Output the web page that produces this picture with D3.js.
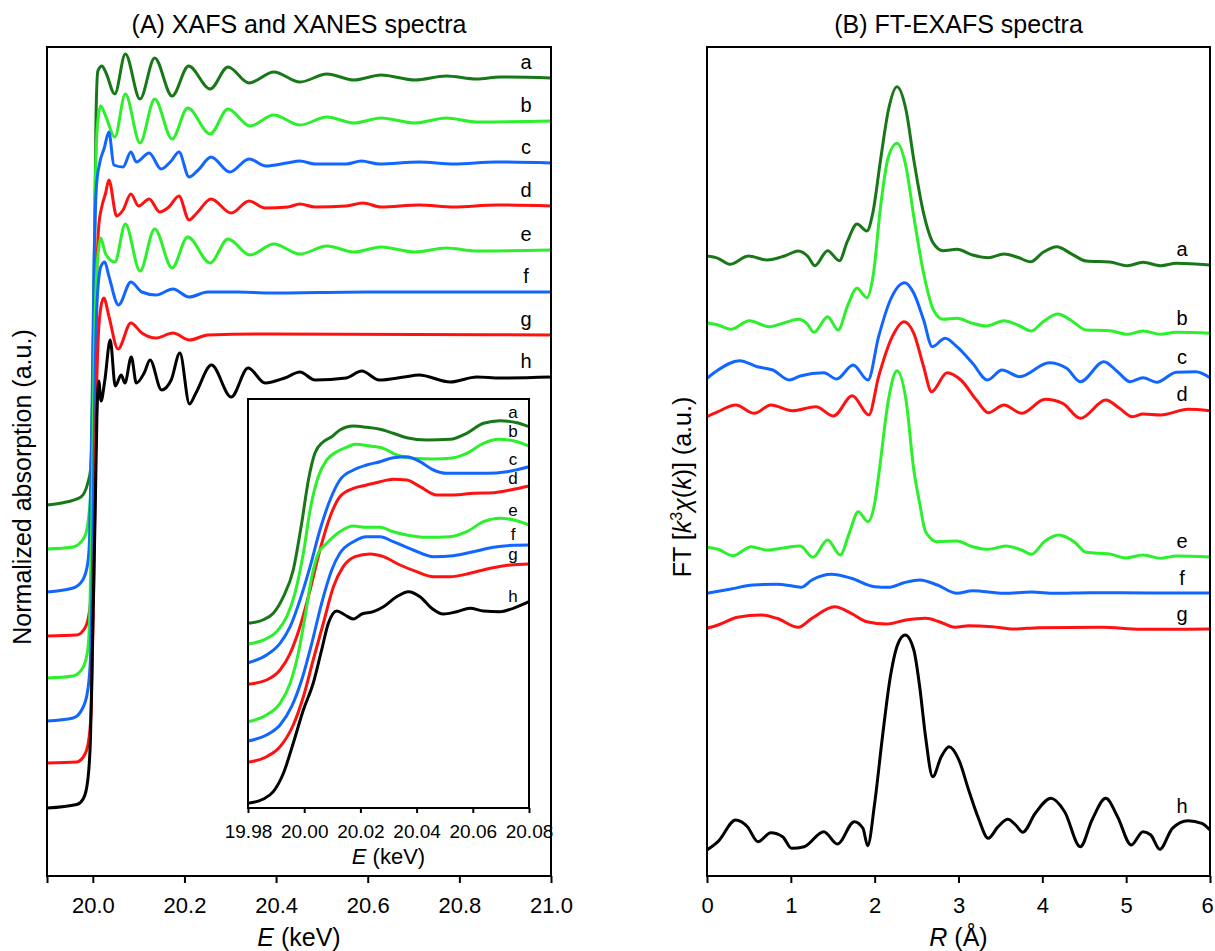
<!DOCTYPE html>
<html lang="en">
<head>
<meta charset="utf-8">
<title>XAFS and FT-EXAFS spectra</title>
<script src="https://d3js.org/d3.v7.min.js"></script>
<style>
  body { margin: 0; background: #fff; }
  svg text { font-family: "Liberation Sans", Arial, sans-serif; fill: #000; }
</style>
</head>
<body>
<div id="chart"></div>
<script>
// sample labels and colours
const samples = ['a', 'b', 'c', 'd', 'e', 'f', 'g', 'h'];
const color_map = {a: '#187818', b: '#2bf02b', c: '#1166ff', d: '#ff1111',
                   e: '#2bf02b', f: '#1166ff', g: '#ff1111', h: '#000000'};

// (A) XAFS : [E (keV), normalized absorption + offset (a.u.)]
const xafsA = [[19.9,3.71],[19.932,3.73],[19.974,3.79],[19.989,3.93],[19.995,4.06],[20.0,4.9],[20.003,6.0],[20.007,7.6],[20.011,8.05],[20.02,8.10],[20.028,8.04],[20.048,7.82],[20.071,8.22],[20.103,7.77],[20.135,8.18],[20.173,7.80],[20.209,8.10],[20.256,7.87],[20.295,8.09],[20.341,7.93],[20.395,8.04],[20.452,7.94],[20.511,8.02],[20.570,7.96],[20.629,8.01],[20.703,7.96],[20.771,8.00],[20.838,7.97],[20.889,7.99],[21.0,7.98]];
const xafsB = [[19.9,3.27],[19.957,3.29],[19.982,3.39],[19.992,3.63],[19.996,3.89],[20.001,5.2],[20.005,6.8],[20.010,7.5],[20.017,7.70],[20.028,7.60],[20.048,7.39],[20.071,7.82],[20.103,7.33],[20.135,7.77],[20.173,7.37],[20.207,7.68],[20.256,7.42],[20.295,7.67],[20.343,7.50],[20.395,7.61],[20.452,7.51],[20.511,7.59],[20.570,7.53],[20.629,7.58],[20.703,7.53],[20.771,7.58],[20.838,7.54],[21.0,7.55]];
const xafsC = [[19.9,2.84],[19.957,2.88],[19.978,2.96],[19.989,3.13],[19.993,3.39],[19.998,4.6],[20.003,6.2],[20.008,6.9],[20.015,7.13],[20.025,7.28],[20.035,7.44],[20.046,7.11],[20.066,7.09],[20.083,7.24],[20.095,7.14],[20.123,7.23],[20.149,7.07],[20.171,7.15],[20.188,7.24],[20.210,6.99],[20.230,7.06],[20.258,7.19],[20.299,7.04],[20.341,7.17],[20.378,7.10],[20.423,7.13],[20.452,7.15],[20.485,7.12],[20.553,7.12],[20.586,7.15],[20.625,7.12],[20.712,7.14],[20.788,7.12],[20.880,7.14],[21.0,7.13]];
const xafsD = [[19.9,2.40],[19.965,2.41],[19.984,2.49],[19.995,2.73],[19.999,3.06],[20.003,4.3],[20.008,5.9],[20.013,6.5],[20.020,6.70],[20.028,6.83],[20.035,6.96],[20.052,6.60],[20.066,6.66],[20.083,6.82],[20.100,6.70],[20.123,6.77],[20.146,6.64],[20.166,6.69],[20.188,6.80],[20.210,6.56],[20.227,6.63],[20.258,6.77],[20.302,6.63],[20.341,6.75],[20.376,6.68],[20.426,6.69],[20.452,6.72],[20.485,6.69],[20.553,6.70],[20.590,6.73],[20.629,6.69],[20.712,6.71],[20.788,6.69],[20.880,6.71],[21.0,6.70]];
const xafsE = [[19.9,1.98],[19.957,2.00],[19.978,2.08],[19.989,2.26],[19.993,2.56],[19.998,3.6],[20.003,5.2],[20.008,6.0],[20.012,6.25],[20.017,6.38],[20.028,6.22],[20.048,6.14],[20.071,6.52],[20.103,6.05],[20.135,6.47],[20.173,6.08],[20.207,6.39],[20.256,6.13],[20.295,6.37],[20.343,6.21],[20.395,6.32],[20.452,6.22],[20.511,6.30],[20.570,6.24],[20.629,6.29],[20.703,6.24],[20.771,6.28],[20.838,6.25],[21.0,6.26]];
const xafsF = [[19.9,1.55],[19.957,1.58],[19.978,1.68],[19.989,1.86],[19.995,2.19],[20.000,3.3],[20.005,5.0],[20.010,5.8],[20.018,6.10],[20.026,6.14],[20.035,6.0],[20.056,5.71],[20.083,5.94],[20.107,5.84],[20.138,5.81],[20.175,5.87],[20.210,5.79],[20.251,5.84],[20.317,5.84],[20.385,5.83],[20.600,5.84],[21.0,5.84]];
const xafsG = [[19.9,1.13],[19.965,1.14],[19.984,1.23],[19.992,1.39],[19.997,1.73],[20.002,2.9],[20.007,4.6],[20.012,5.4],[20.018,5.70],[20.024,5.78],[20.035,5.6],[20.055,5.27],[20.083,5.53],[20.107,5.43],[20.138,5.38],[20.175,5.43],[20.211,5.36],[20.251,5.41],[20.385,5.42],[21.0,5.41]];
const xafsH = [[19.9,0.68],[19.965,0.715],[19.980,0.78],[19.989,0.96],[19.995,1.39],[20.000,2.5],[20.005,3.6],[20.009,4.6],[20.013,4.95],[20.018,4.75],[20.026,4.95],[20.038,5.36],[20.049,4.90],[20.062,5.01],[20.070,4.93],[20.084,5.19],[20.095,4.93],[20.112,5.03],[20.125,5.16],[20.150,4.86],[20.171,4.96],[20.190,5.23],[20.211,4.72],[20.225,4.83],[20.259,5.11],[20.302,4.79],[20.339,5.08],[20.376,4.93],[20.419,4.98],[20.452,5.04],[20.485,4.96],[20.553,4.98],[20.587,5.05],[20.625,4.96],[20.679,4.99],[20.712,5.01],[20.780,4.94],[20.838,4.99],[20.889,4.98],[21.0,4.99]];

// inset XANES : [E (keV), absorption + offset (a.u.)]
const xanesA = [[19.98,1.847],[19.9853,1.88],[19.989,1.947],[19.9926,2.113],[19.9961,2.38],[19.9991,2.847],[20.0015,3.28],[20.0038,3.547],[20.0068,3.663],[20.0098,3.713],[20.0127,3.78],[20.0175,3.82],[20.0222,3.807],[20.027,3.787],[20.0317,3.747],[20.0365,3.703],[20.0436,3.68],[20.0519,3.687],[20.0578,3.747],[20.0638,3.847],[20.0697,3.873],[20.0757,3.853],[20.08,3.813]];
const xanesB = [[19.98,1.64],[19.9861,1.687],[19.9902,1.763],[19.9938,1.913],[19.9967,2.147],[19.9997,2.547],[20.0021,2.98],[20.005,3.313],[20.008,3.48],[20.0116,3.563],[20.0151,3.607],[20.0181,3.637],[20.0234,3.62],[20.0282,3.597],[20.0329,3.53],[20.0388,3.497],[20.046,3.49],[20.0519,3.497],[20.0578,3.547],[20.0638,3.647],[20.0691,3.687],[20.0744,3.673],[20.08,3.62]];
const xanesC = [[19.98,1.453],[19.9866,1.53],[19.9914,1.647],[19.995,1.813],[19.9985,2.08],[20.0021,2.413],[20.0056,2.78],[20.0092,3.08],[20.0127,3.28],[20.0175,3.38],[20.0222,3.43],[20.027,3.463],[20.0317,3.503],[20.0365,3.513],[20.0412,3.463],[20.046,3.38],[20.0507,3.347],[20.0578,3.347],[20.065,3.347],[20.0721,3.363],[20.08,3.413]];
const xanesD = [[19.98,1.237],[19.9866,1.28],[19.9914,1.38],[19.995,1.547],[19.9985,1.813],[20.0021,2.18],[20.0056,2.58],[20.0092,2.913],[20.0127,3.113],[20.0175,3.197],[20.0222,3.23],[20.027,3.263],[20.0317,3.287],[20.0365,3.28],[20.0412,3.213],[20.0472,3.13],[20.0531,3.13],[20.0602,3.147],[20.0673,3.153],[20.0733,3.18],[20.08,3.22]];
const xanesE = [[19.98,0.863],[19.9866,0.93],[19.9914,1.047],[19.995,1.247],[19.9979,1.547],[20.0003,1.913],[20.0027,2.313],[20.005,2.547],[20.008,2.647],[20.0127,2.763],[20.0175,2.82],[20.0222,2.807],[20.027,2.807],[20.0317,2.763],[20.0365,2.73],[20.0436,2.707],[20.0519,2.713],[20.0578,2.763],[20.0638,2.863],[20.0697,2.897],[20.0757,2.873],[20.08,2.83]];
const xanesF = [[19.98,0.67],[19.9866,0.73],[19.9914,0.83],[19.9955,1.013],[19.9991,1.28],[20.0027,1.647],[20.0062,2.047],[20.0098,2.38],[20.0127,2.547],[20.0175,2.663],[20.0222,2.713],[20.027,2.713],[20.0317,2.663],[20.0388,2.58],[20.046,2.513],[20.0531,2.523],[20.0602,2.563],[20.0673,2.607],[20.0744,2.627],[20.08,2.63]];
const xanesG = [[19.98,0.457],[19.9866,0.513],[19.9914,0.613],[19.9961,0.83],[19.9997,1.113],[20.0032,1.48],[20.0068,1.847],[20.0104,2.213],[20.0139,2.413],[20.0181,2.513],[20.0234,2.54],[20.0282,2.513],[20.0341,2.43],[20.04,2.363],[20.046,2.313],[20.0519,2.313],[20.059,2.347],[20.0662,2.397],[20.0733,2.43],[20.08,2.44]];
const xanesH = [[19.98,0.047],[19.9853,0.087],[19.989,0.163],[19.9926,0.347],[19.9961,0.647],[19.9997,0.98],[20.0032,1.247],[20.0062,1.58],[20.0086,1.847],[20.0116,1.97],[20.0145,1.93],[20.0175,1.89],[20.0205,1.94],[20.0246,1.963],[20.0282,2.013],[20.0329,2.113],[20.0371,2.163],[20.0412,2.113],[20.0454,1.997],[20.0495,1.94],[20.0543,1.963],[20.059,1.997],[20.0638,1.97],[20.0697,1.963],[20.0744,1.997],[20.08,2.063]];

// (B) FT-EXAFS : [R (A), |FT| + offset (a.u.)]
const ftA = [[0,6.20],[0.131,6.177],[0.271,6.117],[0.495,6.20],[0.715,6.16],[0.925,6.20],[1.089,6.25],[1.206,6.193],[1.285,6.103],[1.439,6.253],[1.579,6.153],[1.673,6.343],[1.79,6.52],[1.907,6.45],[1.977,6.627],[2.07,7.16],[2.164,7.66],[2.266,7.893],[2.374,7.66],[2.467,7.16],[2.584,6.627],[2.701,6.327],[2.818,6.253],[2.981,6.267],[3.168,6.21],[3.355,6.183],[3.542,6.22],[3.706,6.187],[3.86,6.143],[4.009,6.237],[4.173,6.293],[4.336,6.227],[4.523,6.15],[4.804,6.14],[5.014,6.103],[5.201,6.137],[5.411,6.103],[5.598,6.127],[6.0,6.11]];
const ftB = [[0,5.533],[0.131,5.51],[0.285,5.467],[0.505,5.553],[0.738,5.493],[0.925,5.533],[1.089,5.567],[1.196,5.52],[1.276,5.437],[1.439,5.593],[1.565,5.46],[1.673,5.693],[1.79,5.877],[1.907,5.783],[1.986,6.027],[2.07,6.693],[2.164,7.193],[2.266,7.327],[2.374,7.093],[2.467,6.593],[2.584,6.027],[2.701,5.66],[2.818,5.567],[2.981,5.577],[3.168,5.527],[3.332,5.50],[3.542,5.553],[3.706,5.51],[3.869,5.45],[4.009,5.543],[4.187,5.62],[4.336,5.56],[4.523,5.46],[4.804,5.453],[5.014,5.417],[5.201,5.45],[5.411,5.417],[5.598,5.437],[6.0,5.427]];
const ftC = [[0,4.977],[0.131,5.06],[0.388,5.153],[0.598,5.093],[0.785,5.06],[0.981,4.96],[1.112,5.0],[1.393,5.033],[1.547,4.97],[1.743,5.11],[1.921,4.96],[2.047,5.393],[2.187,5.76],[2.36,5.933],[2.467,5.827],[2.584,5.56],[2.687,5.293],[2.841,5.377],[2.981,5.293],[3.168,5.127],[3.346,4.96],[3.519,5.06],[3.729,4.993],[4.08,5.133],[4.29,5.077],[4.453,4.943],[4.734,5.143],[4.897,5.043],[5.047,4.943],[5.201,4.983],[5.364,4.937],[5.598,5.037],[5.832,5.043],[6.0,4.983]];
const ftD = [[0,4.593],[0.131,4.643],[0.342,4.71],[0.565,4.627],[0.762,4.71],[1.019,4.653],[1.299,4.693],[1.509,4.60],[1.734,4.803],[1.93,4.61],[2.047,4.993],[2.21,5.393],[2.35,5.543],[2.467,5.427],[2.584,5.093],[2.678,4.843],[2.864,5.033],[3.028,4.96],[3.215,4.76],[3.355,4.633],[3.542,4.71],[3.752,4.627],[4.033,4.767],[4.243,4.727],[4.453,4.577],[4.757,4.76],[4.921,4.677],[5.075,4.593],[5.201,4.62],[5.411,4.61],[5.738,4.667],[6.0,4.653]];
const ftE = [[0,3.287],[0.131,3.267],[0.308,3.203],[0.528,3.293],[0.715,3.26],[0.925,3.283],[1.112,3.30],[1.262,3.187],[1.439,3.36],[1.589,3.21],[1.696,3.427],[1.804,3.643],[1.921,3.543],[2.0,3.727],[2.056,4.06],[2.164,4.76],[2.266,5.053],[2.374,4.76],[2.467,4.06],[2.537,3.727],[2.607,3.443],[2.748,3.343],[2.981,3.35],[3.168,3.293],[3.355,3.267],[3.565,3.30],[3.752,3.26],[3.869,3.217],[4.033,3.35],[4.196,3.41],[4.383,3.34],[4.523,3.237],[4.804,3.22],[4.99,3.18],[5.201,3.21],[5.411,3.177],[5.598,3.20],[6.0,3.19]];
const ftF = [[0,2.827],[0.271,2.867],[0.551,2.91],[0.832,2.917],[1.019,2.90],[1.121,2.887],[1.252,2.96],[1.486,3.017],[1.72,2.977],[2.0,2.893],[2.164,2.887],[2.35,2.933],[2.537,2.96],[2.748,2.91],[2.981,2.827],[3.168,2.853],[3.542,2.827],[3.869,2.84],[4.15,2.827],[4.57,2.833],[5.271,2.83],[6.0,2.83]];
const ftG = [[0,2.477],[0.131,2.51],[0.364,2.587],[0.645,2.61],[0.832,2.577],[1.089,2.487],[1.252,2.577],[1.523,2.693],[1.72,2.627],[1.907,2.543],[2.14,2.52],[2.374,2.56],[2.607,2.577],[2.771,2.543],[2.958,2.487],[3.121,2.503],[3.402,2.493],[3.659,2.47],[3.963,2.483],[4.71,2.487],[5.178,2.467],[6.0,2.47]];
const ftH = [[0,0.26],[0.131,0.343],[0.342,0.56],[0.482,0.493],[0.607,0.343],[0.762,0.433],[0.902,0.393],[1.009,0.277],[1.159,0.293],[1.393,0.443],[1.556,0.32],[1.757,0.543],[1.86,0.477],[1.916,0.303],[2.0,0.727],[2.093,1.393],[2.187,1.993],[2.28,2.327],[2.364,2.41],[2.467,2.26],[2.537,1.893],[2.607,1.393],[2.692,0.993],[2.794,1.193],[2.888,1.293],[3.005,1.16],[3.121,0.86],[3.238,0.577],[3.355,0.377],[3.472,0.493],[3.589,0.567],[3.682,0.51],[3.766,0.437],[3.916,0.627],[4.103,0.777],[4.266,0.643],[4.453,0.293],[4.593,0.56],[4.757,0.777],[4.897,0.593],[5.061,0.31],[5.201,0.443],[5.294,0.41],[5.4,0.267],[5.551,0.477],[5.738,0.553],[5.902,0.527],[6.0,0.46]];

const xafsTicks = [19.9, 20.0, 20.2, 20.4, 20.6, 20.8, 21.0];
const xanesTicks = [19.98, 20.00, 20.02, 20.04, 20.06, 20.08];
const ftTicks = [0, 1, 2, 3, 4, 5, 6];

const xafs = [xafsA, xafsB, xafsC, xafsD, xafsE, xafsF, xafsG, xafsH];
const xanes = [xanesA, xanesB, xanesC, xanesD, xanesE, xanesF, xanesG, xanesH];
const ft = [ftA, ftB, ftC, ftD, ftE, ftF, ftG, ftH];

const width = 1215, height = 951;
const svg = d3.select('#chart').append('svg')
  .attr('width', width).attr('height', height);

const boxA = {left: 47, right: 551, top: 47, bottom: 876};
const boxB = {left: 707, right: 1210, top: 47, bottom: 876};
const boxI = {left: 248, right: 529, top: 399, bottom: 808};

const xA = d3.scaleLinear().domain([19.9, 21.0]).range([boxA.left, boxA.right]);
const yA = d3.scaleLinear().domain([0, 8.29]).range([boxA.bottom, boxA.top]);
const xI = d3.scaleLinear().domain([19.98, 20.08]).range([boxI.left, boxI.right]);
const yI = d3.scaleLinear().domain([0, 4.09]).range([boxI.bottom, boxI.top]);
const xB = d3.scaleLinear().domain([0, 6]).range([boxB.left, boxB.right]);
const yB = d3.scaleLinear().domain([0, 8.29]).range([boxB.bottom, boxB.top]);

function valueAt(pts, x) {
  const i = d3.bisector(d => d[0]).left(pts, x);
  if (i <= 0) return pts[0][1];
  if (i >= pts.length) return pts[pts.length - 1][1];
  const p0 = pts[i - 1], p1 = pts[i];
  return p0[1] + (p1[1] - p0[1]) * (x - p0[0]) / (p1[0] - p0[0]);
}

function drawCurves(g, sets, x, y, width) {
  const line = d3.line()
    .x(d => x(d[0])).y(d => y(d[1]))
    .curve(d3.curveMonotoneX);
  g.append('g').selectAll('path')
    .data(sets)
    .join('path')
    .attr('d', line)
    .attr('fill', 'none')
    .attr('stroke', (d, i) => color_map[samples[i]])
    .attr('stroke-width', width)
    .attr('stroke-linejoin', 'round');
}

function drawLabels(g, sets, x, y, atX, textX, lift, size) {
  g.append('g').selectAll('text')
    .data(sets)
    .join('text')
    .attr('x', textX)
    .attr('y', d => y(valueAt(d, atX)) - lift)
    .attr('text-anchor', 'middle')
    .style('font-size', size + 'px')
    .text((d, i) => samples[i]);
}

function frame(g, box, fill) {
  g.append('rect')
    .attr('x', box.left).attr('y', box.top)
    .attr('width', box.right - box.left).attr('height', box.bottom - box.top)
    .attr('fill', fill || 'none').attr('stroke', '#000').attr('stroke-width', 2);
}

function bottomAxis(g, box, x, ticks, fmt, size, tickLen, pad) {
  const ax = g.append('g')
    .attr('transform', `translate(0, ${box.bottom})`)
    .call(d3.axisBottom(x).tickValues(ticks).tickFormat(fmt).tickSize(tickLen).tickPadding(pad));
  ax.select('.domain').remove();
  ax.selectAll('.tick line').attr('stroke', '#000').attr('stroke-width', 2);
  ax.selectAll('.tick text')
    .style('font-size', size + 'px')
    .style('font-family', '"Liberation Sans", Arial, sans-serif');
  return ax;
}

// ---------- panel A ----------
const gA = svg.append('g');
drawCurves(gA, xafs, xA, yA, 3);
drawLabels(gA, xafs, xA, yA, 21.0, 526, 9, 20);
frame(gA, boxA);
bottomAxis(gA, boxA, xA, xafsTicks, d => d < 19.95 ? '' : d3.format('.1f')(d), 22, 7, 14);

gA.append('text')
  .attr('x', (boxA.left + boxA.right) / 2).attr('y', 33)
  .attr('text-anchor', 'middle').style('font-size', '25px')
  .text('(A) XAFS and XANES spectra');

const xlabA = gA.append('text')
  .attr('x', (boxA.left + boxA.right) / 2).attr('y', 946)
  .attr('text-anchor', 'middle').style('font-size', '25px');
xlabA.append('tspan').style('font-style', 'italic').text('E');
xlabA.append('tspan').text(' (keV)');

gA.append('text')
  .attr('transform', 'translate(31, 487) rotate(-90)')
  .attr('text-anchor', 'middle').style('font-size', '25px')
  .text('Normalized absorption (a.u.)');

// inset XANES
const gI = svg.append('g');
gI.append('rect')
  .attr('x', boxI.left).attr('y', boxI.top)
  .attr('width', boxI.right - boxI.left).attr('height', boxI.bottom - boxI.top)
  .attr('fill', '#fff');
drawCurves(gI, xanes, xI, yI, 3);
drawLabels(gI, xanes, xI, yI, 20.0755, 513, 5, 17);
frame(gI, boxI);
bottomAxis(gI, boxI, xI, xanesTicks, d3.format('.2f'), 19, 5, 12);

const xlabI = gI.append('text')
  .attr('x', (boxI.left + boxI.right) / 2).attr('y', 864)
  .attr('text-anchor', 'middle').style('font-size', '22px');
xlabI.append('tspan').style('font-style', 'italic').text('E');
xlabI.append('tspan').text(' (keV)');

// ---------- panel B ----------
const gB = svg.append('g');
drawCurves(gB, ft, xB, yB, 3);
drawLabels(gB, ft, xB, yB, 5.75, 1182, 8, 20);
frame(gB, boxB);
const axB = bottomAxis(gB, boxB, xB, ftTicks, d3.format('d'), 22, 7, 14);
// keep the last tick label inside the picture
axB.selectAll('.tick text').filter(d => d === 6).attr('dx', -3);

gB.append('text')
  .attr('x', (boxB.left + boxB.right) / 2).attr('y', 33)
  .attr('text-anchor', 'middle').style('font-size', '25px')
  .text('(B) FT-EXAFS spectra');

const xlabB = gB.append('text')
  .attr('x', (boxB.left + boxB.right) / 2).attr('y', 946)
  .attr('text-anchor', 'middle').style('font-size', '25px');
xlabB.append('tspan').style('font-style', 'italic').text('R');
xlabB.append('tspan').text(' (\u00C5)');

const ylabB = gB.append('text')
  .attr('transform', 'translate(691, 487) rotate(-90)')
  .attr('text-anchor', 'middle').style('font-size', '25px');
ylabB.append('tspan').text('FT [');
ylabB.append('tspan').style('font-style', 'italic').text('k');
ylabB.append('tspan').attr('dy', -9).style('font-size', '16px').text('3');
ylabB.append('tspan').attr('dy', 9).style('font-style', 'italic').text('\u03C7');
ylabB.append('tspan').text('(');
ylabB.append('tspan').style('font-style', 'italic').text('k');
ylabB.append('tspan').text(')] (a.u.)');
</script>
</body>
</html>
